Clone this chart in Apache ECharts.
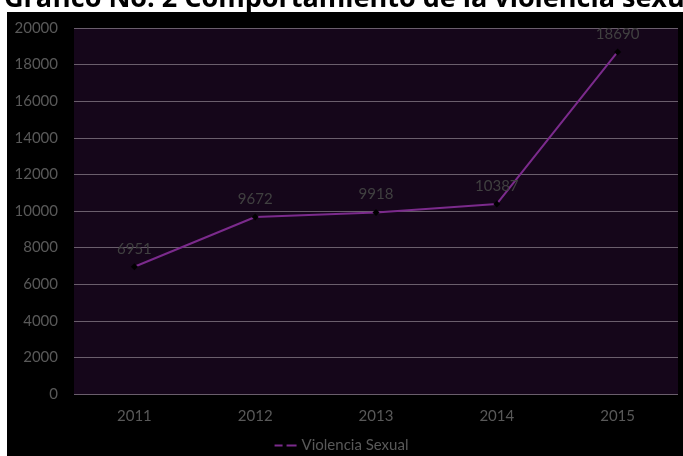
<!DOCTYPE html>
<html>
<head>
<meta charset="utf-8">
<script src="https://cdn.jsdelivr.net/npm/echarts@6/dist/echarts.min.js"></script>
<style>
html,body{margin:0;padding:0;background:#fff;}
#main{width:683px;height:456px;}
</style>
</head>
<body>
<div id="main"></div>
<script>
const years = ['2011','2012','2013','2014','2015'];
const violenciaSexual = [6951, 9672, 9918, 10387, 18690];
const seriesName = 'Violencia Sexual';
const titleText = 'Gráfico No. 2 Comportamiento de la violencia sexual';

const chart = echarts.init(document.getElementById('main'));
chart.setOption({
  backgroundColor: '#ffffff',
  animation: false,
  graphic: [
    {type:'rect', z:-10, silent:true, shape:{x:7, y:12, width:676, height:444}, style:{fill:'#000000'}},
    {type:'text', left:4, top:-14, z:10, style:{text:titleText, font:'bold 27px "Open Sans"', fill:'#000000'}}
  ],
  grid: {left:74, right:5, top:28, bottom:62, show:true, backgroundColor:'#15061a', borderWidth:0},
  xAxis: {
    type:'category', data: years, boundaryGap:true,
    axisLine:{show:false}, axisTick:{show:false},
    axisLabel:{color:'#595959', fontSize:15, fontFamily:'Lato', margin:15}
  },
  yAxis: {
    type:'value', min:0, max:20000, interval:2000,
    axisLine:{show:false}, axisTick:{show:false},
    axisLabel:{color:'#595959', fontSize:15, fontFamily:'Lato', margin:16, formatter: v => String(v)},
    splitLine:{lineStyle:{color:'#6a5e6c', width:1}}
  },
  legend: {
    bottom:-2, left:'center', itemWidth:22, itemHeight:3, itemGap:2,
    textStyle:{color:'#595959', fontSize:15, fontFamily:'Lato'},
    data:[{name:seriesName, icon:'path://M0,0h8v2h-8zM12,0h10v2h-10z', itemStyle:{color:'#7b2a8c'}}]
  },
  series: [{
    name: seriesName, type:'line', data: violenciaSexual,
    symbol:'diamond', symbolSize:7,
    itemStyle:{color:'#000000'},
    lineStyle:{color:'#7b2a8c', width:2},
    label:{show:true, position:'top', distance:7, color:'#404040', fontSize:15, fontFamily:'Lato'}
  }]
});
</script>
</body>
</html>
